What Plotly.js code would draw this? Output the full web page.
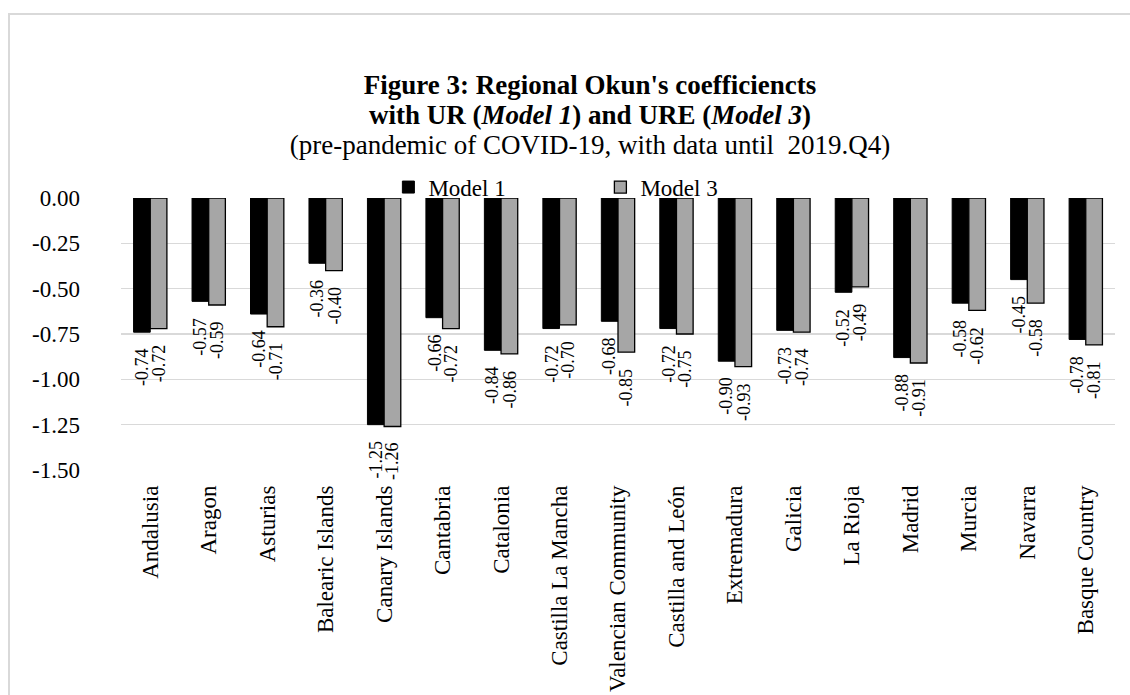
<!DOCTYPE html>
<html>
<head>
<meta charset="utf-8">
<script src="https://cdn.plot.ly/plotly-3.0.1.min.js"></script>
<style>
  html, body { margin: 0; padding: 0; background: #ffffff; overflow: hidden; }
  #frame { position: absolute; left: 8px; top: 13px; width: 1200px; height: 800px;
           border: 2px solid #d9d9d9; box-sizing: border-box; }
  #chart { position: absolute; left: 0; top: 0; width: 1130px; height: 695px; }
</style>
</head>
<body>
<div id="frame"></div>
<div id="chart"></div>
<script>
const regions = ["Andalusia", "Aragon", "Asturias", "Balearic Islands", "Canary Islands",
  "Cantabria", "Catalonia", "Castilla La Mancha", "Valencian Community", "Castilla and León",
  "Extremadura", "Galicia", "La Rioja", "Madrid", "Murcia", "Navarra", "Basque Country"];
const model1 = [-0.74, -0.57, -0.64, -0.36, -1.25, -0.66, -0.84, -0.72, -0.68, -0.72,
  -0.90, -0.73, -0.52, -0.88, -0.58, -0.45, -0.78];
const model3 = [-0.72, -0.59, -0.71, -0.40, -1.26, -0.72, -0.86, -0.70, -0.85, -0.75,
  -0.93, -0.74, -0.49, -0.91, -0.62, -0.58, -0.81];
const seriesNames = ["Model 1", "Model 3"];
const yTickVals = [0, -0.25, -0.5, -0.75, -1.0, -1.25, -1.5];
const yTickText = ["0.00", "-0.25", "-0.50", "-0.75", "-1.00", "-1.25", "-1.50"];

const FONT = "'Liberation Serif', 'Times New Roman', Times, serif";

const traces = [
  { type: "bar", name: seriesNames[0], x: regions, y: model1,
    marker: { color: "#000000", line: { color: "#000000", width: 1 } }, hoverinfo: "skip" },
  { type: "bar", name: seriesNames[1], x: regions, y: model3,
    marker: { color: "#a6a6a6", line: { color: "#000000", width: 1.3 } }, hoverinfo: "skip" }
];

const HALF = 8.4;
const annotations = [];
[model1, model3].forEach((vals, s) => {
  vals.forEach((v, i) => {
    annotations.push({
      x: regions[i], y: v, xref: "x", yref: "y",
      text: v.toFixed(2), showarrow: false, textangle: -90,
      xanchor: "center", yanchor: "top",
      xshift: s === 0 ? -HALF : HALF, yshift: -14,
      font: { family: FONT, size: 18, color: "#000000" }
    });
  });
});

const layout = {
  width: 1130, height: 695,
  margin: { l: 121, r: 15, t: 198, b: 225 },
  paper_bgcolor: "rgba(0,0,0,0)", plot_bgcolor: "rgba(0,0,0,0)",
  font: { family: FONT, color: "#000000" },
  title: {
    text: "<span style='font-size:27px'><b>Figure 3: Regional Okun's coefficiencts</b></span><br>" +
          "<span style='font-size:27px'><b>with UR (<i>Model 1</i>) and URE (<i>Model 3</i>)</b></span><br>" +
          "<span style='font-size:27px'>(pre-pandemic of COVID-19, with data until  2019.Q4)</span>",
    font: { family: FONT, size: 23, color: "#000000" },
    xref: "container", x: 590 / 1130, xanchor: "center",
    yref: "container", y: 1 - 94 / 695, yanchor: "top"
  },
  barmode: "group", bargap: 0.43, bargroupgap: 0,
  showlegend: true,
  legend: {
    orientation: "h", x: 0.269, xanchor: "left", y: 1.04, yanchor: "middle",
    font: { family: FONT, size: 23, color: "#000000" },
    bgcolor: "rgba(0,0,0,0)", entrywidth: 167, entrywidthmode: "pixels",
    traceorder: "normal"
  },
  xaxis: {
    type: "category", tickangle: -90, ticks: "", showgrid: false, showline: false,
    zeroline: false, tickfont: { family: FONT, size: 23, color: "#000000" },
    ticklabelstandoff: 10, automargin: false
  },
  yaxis: {
    range: [-1.5, 0], tickvals: yTickVals, ticktext: yTickText, ticks: "",
    showgrid: true, gridcolor: "#d9d9d9", gridwidth: 1.5, zeroline: false, showline: false,
    tickfont: { family: FONT, size: 23, color: "#000000" },
    ticklabelstandoff: 40, automargin: false
  },
  annotations: annotations
};

Plotly.newPlot("chart", traces, layout, { staticPlot: true, displayModeBar: false });
</script>
</body>
</html>
